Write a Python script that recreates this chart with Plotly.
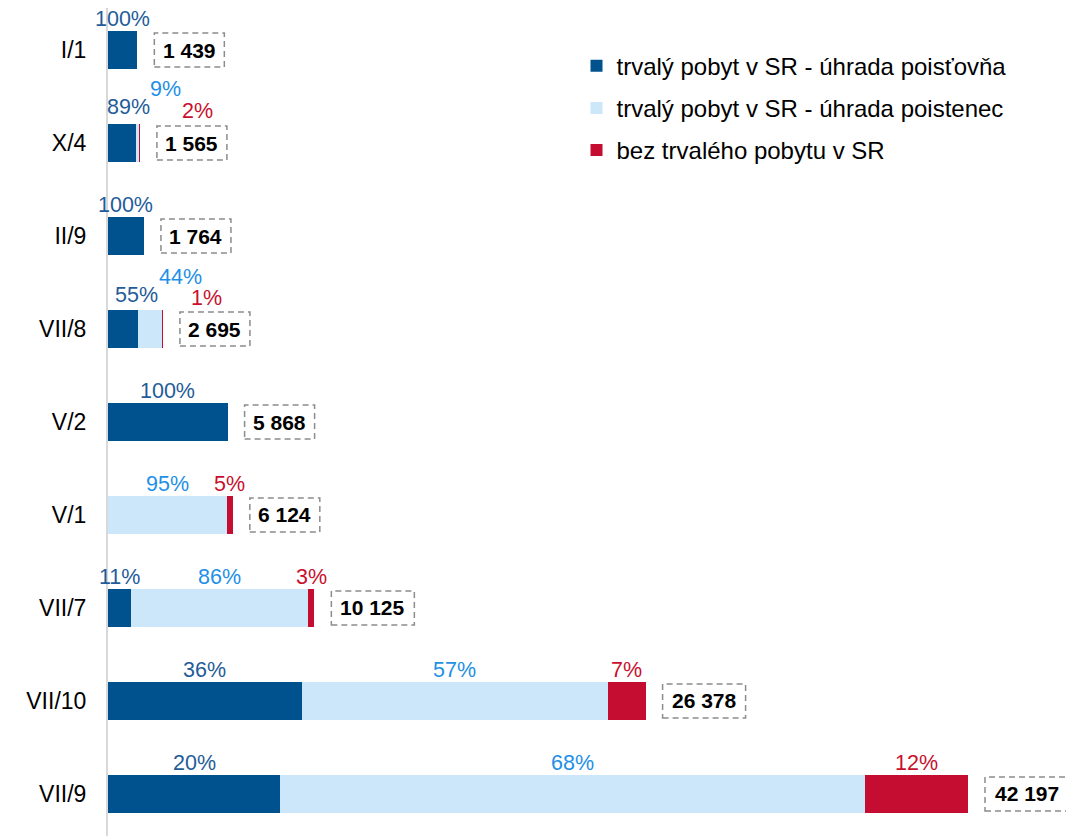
import plotly.graph_objects as go

categories = ["I/1", "X/4", "II/9", "VII/8", "V/2", "V/1", "VII/7", "VII/10", "VII/9"]
totals = [1439, 1565, 1764, 2695, 5868, 6124, 10125, 26378, 42197]
pct_insurer = [100, 89, 100, 55, 100, 0, 11, 36, 20]
pct_insured = [0, 9, 0, 44, 0, 95, 86, 57, 68]
pct_nonres = [0, 2, 0, 1, 0, 5, 3, 7, 12]
series_names = [
    "trvalý pobyt v SR - úhrada poisťovňa",
    "trvalý pobyt v SR - úhrada poistenec",
    "bez trvalého pobytu v SR",
]

bar_colors = ["#00528F", "#CCE6FA", "#C50D31"]
text_colors = ["#1F5C99", "#1E90E6", "#C8102E"]
FONT = "Liberation Sans, Arial, sans-serif"

# label nudges (pixels) for crowded rows: (row, series) -> (dx, dy)
nudges = {
    (1, 0): (6, 5), (1, 1): (28, 23), (1, 2): (58, 1),
    (3, 0): (13, 3), (3, 1): (30, 21), (3, 2): (44, 0),
}

pcts = [pct_insurer, pct_insured, pct_nonres]
values = [[t * p / 100 for t, p in zip(totals, pl)] for pl in pcts]
idx = list(range(len(categories)))

fig = go.Figure()
for k in range(3):
    fig.add_trace(go.Bar(
        y=idx, x=values[k], orientation="h", name=series_names[k],
        marker=dict(color=bar_colors[k], line=dict(width=0)),
        width=0.4, legendgroup=f"g{k}", hoverinfo="skip",
    ))

annotations = []
shapes = []
for i in idx:
    start = 0.0
    for k in range(3):
        v = values[k][i]
        if pcts[k][i] > 0:
            dx, dy = nudges.get((i, k), (0, 0))
            annotations.append(dict(
                x=start + v / 2, y=i, xref="x", yref="y",
                text=f"{pcts[k][i]}%", showarrow=False,
                font=dict(family=FONT, size=21.5, color=text_colors[k]),
                xanchor="center", yanchor="middle",
                xshift=dx, yshift=31 + dy,
            ))
        start += v
    label = f"{totals[i]:,}".replace(",", " ")
    w = 13 * len(label) + 5
    gap = 17
    annotations.append(dict(
        x=totals[i], y=i, xref="x", yref="y", text=f"<b>{label}</b>",
        showarrow=False, font=dict(family=FONT, size=21, color="#000000"),
        xanchor="center", yanchor="middle", xshift=gap + w / 2,
    ))
    shapes.append(dict(
        type="rect", xref="x", yref="y",
        xsizemode="pixel", xanchor=totals[i], x0=gap, x1=gap + w,
        ysizemode="pixel", yanchor=i, y0=-17, y1=17,
        line=dict(color="#8C8C8C", width=1.5, dash="6px,4px"),
        fillcolor="rgba(0,0,0,0)",
    ))

fig.update_layout(
    barmode="stack",
    width=1066, height=828,
    margin=dict(l=100, r=0, t=0, b=0),
    paper_bgcolor="white", plot_bgcolor="white",
    font=dict(family=FONT, color="#000000"),
    showlegend=True,
    legend=dict(
        x=0.485, y=0.957, xanchor="left", yanchor="top",
        font=dict(family=FONT, size=24, color="#000000"),
        traceorder="grouped", tracegroupgap=8,
        bgcolor="rgba(0,0,0,0)",
    ),
    xaxis=dict(
        range=[0, 47398], showgrid=False, zeroline=False,
        showticklabels=False, showline=False, ticks="",
    ),
    yaxis=dict(
        tickmode="array", tickvals=idx, ticktext=categories,
        range=[8.452, -0.452], showgrid=False, zeroline=False,
        showline=True, linecolor="#D9D9D9", linewidth=2,
        ticks="", ticklabelstandoff=15, automargin=False,
        tickfont=dict(family=FONT, size=23, color="#000000"),
    ),
    annotations=annotations,
    shapes=shapes,
)

fig.write_html("out.html")
